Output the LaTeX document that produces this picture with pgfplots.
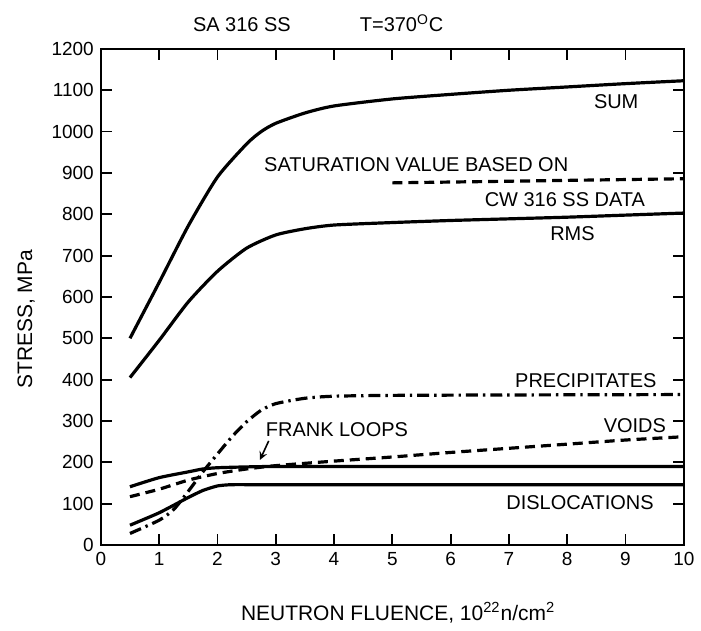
\documentclass[border=0pt]{standalone}
\usepackage{fontspec}
\setmainfont{Liberation Sans}
\usepackage{pgfplots}
\pgfplotsset{compat=1.18}
\newcommand{\lbl}{\fontsize{10}{12}\selectfont}
\newcommand{\albl}{\fontsize{10.5}{12.5}\selectfont}
\begin{document}
\begin{tikzpicture}[x=1pt,y=1pt]
\begin{axis}[name=ax, at={(0,0)}, anchor=south west,
  scale only axis, width=292pt, height=248.5pt,
  xmin=0, xmax=10, ymin=0, ymax=1200,
  xtick={0,1,...,10}, ytick={0,100,...,1200},
  tick align=inside, major tick length=5.5pt,
  tick style={line width=0.9pt, black},
  axis line style={line width=1pt},
  ticklabel style={font=\fontsize{9.5}{11}\selectfont},
  /pgf/number format/assume math mode=true,
  /pgf/number format/1000 sep={},
  xlabel={NEUTRON FLUENCE, 10\textsuperscript{22}n/cm\textsuperscript{2}},
  ylabel={STRESS, MPa},
  xlabel style={at={(axis description cs:0.51,-0.137)}, anchor=center, font=\albl},
  ylabel style={at={(axis description cs:-0.128,0.455)}, anchor=center, rotate=0, font=\albl},
  clip=false,
]
% SUM
\addplot[black, line width=1.6pt, smooth, tension=0.4] coordinates {
(0.5,500) (1,635) (1.5,772) (2,890) (2.5,970) (2.75,1000) (3,1020) (3.5,1045) (4,1062) (5,1079) (6,1090) (7,1100) (8,1108) (9,1116) (10,1123)};
% RMS
\addplot[black, line width=1.6pt, smooth, tension=0.4] coordinates {
(0.5,405) (1,495) (1.5,588) (2,662) (2.5,718) (3,750) (3.5,765) (4,774) (5,780) (6,785) (7,789) (8,793) (9,798) (10,803)};
% saturation value
\addplot[black, line width=1.6pt, dash pattern=on 5pt off 3pt] coordinates {(5,876) (10,886)};
% precipitates
\addplot[black, line width=1.6pt, smooth, tension=0.4, dash pattern=on 6pt off 2.5pt on 1.2pt off 2.5pt] coordinates {
(0.5,28) (1,60) (1.25,86) (1.5,130) (1.75,177) (2,220) (2.25,262) (2.5,298) (2.75,326) (3,342) (3.5,355) (4,360) (5,362) (7,363) (10,364)};
% voids
\addplot[black, line width=1.6pt, smooth, tension=0.4, dash pattern=on 5pt off 3pt] coordinates {
(0.5,117) (1,135) (1.5,157) (2,173) (2.5,184) (3,192) (4,203) (5,213) (6,224) (7,234) (8,244) (9,254) (10,262)};
% Frank loops
\addplot[black, line width=1.6pt, smooth, tension=0.4] coordinates {
(0.5,141) (1,163) (1.5,177) (1.75,184) (2,187) (2.5,189) (3,190) (5,190) (10,190)};
% dislocations
\addplot[black, line width=1.6pt, smooth, tension=0.3] coordinates {
(0.5,48) (1,78) (1.5,115) (1.75,132) (2,143) (2.25,146) (3,146) (10,146)};

\node[font=\lbl] at (axis cs:8.84,1072) {SUM};
\node[font=\lbl] at (axis cs:5.41,920) {SATURATION VALUE BASED ON};
\node[font=\lbl] at (axis cs:7.96,835) {CW 316 SS DATA};
\node[font=\lbl] at (axis cs:8.09,753) {RMS};
\node[font=\lbl] at (axis cs:8.32,398) {PRECIPITATES};
\node[font=\lbl] at (axis cs:9.16,290) {VOIDS};
\node[font=\lbl] at (axis cs:4.05,280) {FRANK LOOPS};
\node[font=\lbl] at (axis cs:8.22,102) {DISLOCATIONS};
\draw[-stealth, line width=0.8pt] (axis cs:2.88,252) -- (axis cs:2.73,206);
\node[font=\lbl] at (axis description cs:0.242,1.048) {SA 316 SS};
\node[font=\lbl] at (axis description cs:0.516,1.052) {T=370\textsuperscript{O}C};
\end{axis}
\path (-50.5,-42.5) rectangle (300,273);
\end{tikzpicture}
\end{document}
